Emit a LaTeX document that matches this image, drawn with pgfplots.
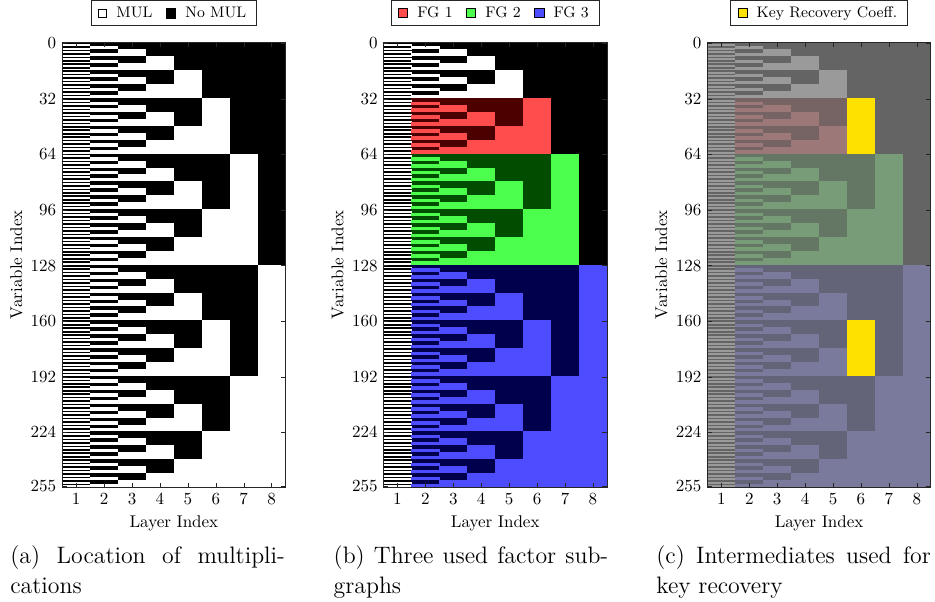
\documentclass[border=0pt]{standalone}
\usepackage{pgfplots}
\pgfplotsset{compat=1.18}
\usepackage{pgfplotstable}

\definecolor{fgr}{RGB}{255,77,77}
\definecolor{fgrd}{RGB}{77,0,0}
\definecolor{fgg}{RGB}{77,255,77}
\definecolor{fggd}{RGB}{0,77,0}
\definecolor{fgb}{RGB}{77,77,255}
\definecolor{fgbd}{RGB}{0,0,77}
\definecolor{cbk}{RGB}{100,100,100}
\definecolor{cwh}{RGB}{154,154,154}
\definecolor{cr}{RGB}{156,120,120}
\definecolor{crd}{RGB}{118,100,100}
\definecolor{cg}{RGB}{120,156,120}
\definecolor{cgd}{RGB}{100,118,100}
\definecolor{cb}{RGB}{122,122,156}
\definecolor{cbd}{RGB}{100,100,120}
\definecolor{keyy}{RGB}{255,225,0}
\definecolor{axgray}{RGB}{38,38,38}

% MUL (white) runs: layer x, centre row y, half height e
\pgfplotstableread[row sep=\\]{
x y e\\
1 1 .5\\1 3 .5\\1 5 .5\\1 7 .5\\1 9 .5\\1 11 .5\\1 13 .5\\1 15 .5\\
1 17 .5\\1 19 .5\\1 21 .5\\1 23 .5\\1 25 .5\\1 27 .5\\1 29 .5\\1 31 .5\\
1 33 .5\\1 35 .5\\1 37 .5\\1 39 .5\\1 41 .5\\1 43 .5\\1 45 .5\\1 47 .5\\
1 49 .5\\1 51 .5\\1 53 .5\\1 55 .5\\1 57 .5\\1 59 .5\\1 61 .5\\1 63 .5\\
1 65 .5\\1 67 .5\\1 69 .5\\1 71 .5\\1 73 .5\\1 75 .5\\1 77 .5\\1 79 .5\\
1 81 .5\\1 83 .5\\1 85 .5\\1 87 .5\\1 89 .5\\1 91 .5\\1 93 .5\\1 95 .5\\
1 97 .5\\1 99 .5\\1 101 .5\\1 103 .5\\1 105 .5\\1 107 .5\\1 109 .5\\1 111 .5\\
1 113 .5\\1 115 .5\\1 117 .5\\1 119 .5\\1 121 .5\\1 123 .5\\1 125 .5\\1 127 .5\\
1 129 .5\\1 131 .5\\1 133 .5\\1 135 .5\\1 137 .5\\1 139 .5\\1 141 .5\\1 143 .5\\
1 145 .5\\1 147 .5\\1 149 .5\\1 151 .5\\1 153 .5\\1 155 .5\\1 157 .5\\1 159 .5\\
1 161 .5\\1 163 .5\\1 165 .5\\1 167 .5\\1 169 .5\\1 171 .5\\1 173 .5\\1 175 .5\\
1 177 .5\\1 179 .5\\1 181 .5\\1 183 .5\\1 185 .5\\1 187 .5\\1 189 .5\\1 191 .5\\
1 193 .5\\1 195 .5\\1 197 .5\\1 199 .5\\1 201 .5\\1 203 .5\\1 205 .5\\1 207 .5\\
1 209 .5\\1 211 .5\\1 213 .5\\1 215 .5\\1 217 .5\\1 219 .5\\1 221 .5\\1 223 .5\\
1 225 .5\\1 227 .5\\1 229 .5\\1 231 .5\\1 233 .5\\1 235 .5\\1 237 .5\\1 239 .5\\
1 241 .5\\1 243 .5\\1 245 .5\\1 247 .5\\1 249 .5\\1 251 .5\\1 253 .5\\1 255 .5\\
2 2.5 1\\2 6.5 1\\2 10.5 1\\2 14.5 1\\2 18.5 1\\2 22.5 1\\2 26.5 1\\2 30.5 1\\
2 34.5 1\\2 38.5 1\\2 42.5 1\\2 46.5 1\\2 50.5 1\\2 54.5 1\\2 58.5 1\\2 62.5 1\\
2 66.5 1\\2 70.5 1\\2 74.5 1\\2 78.5 1\\2 82.5 1\\2 86.5 1\\2 90.5 1\\2 94.5 1\\
2 98.5 1\\2 102.5 1\\2 106.5 1\\2 110.5 1\\2 114.5 1\\2 118.5 1\\2 122.5 1\\2 126.5 1\\
2 130.5 1\\2 134.5 1\\2 138.5 1\\2 142.5 1\\2 146.5 1\\2 150.5 1\\2 154.5 1\\2 158.5 1\\
2 162.5 1\\2 166.5 1\\2 170.5 1\\2 174.5 1\\2 178.5 1\\2 182.5 1\\2 186.5 1\\2 190.5 1\\
2 194.5 1\\2 198.5 1\\2 202.5 1\\2 206.5 1\\2 210.5 1\\2 214.5 1\\2 218.5 1\\2 222.5 1\\
2 226.5 1\\2 230.5 1\\2 234.5 1\\2 238.5 1\\2 242.5 1\\2 246.5 1\\2 250.5 1\\2 254.5 1\\
3 5.5 2\\3 13.5 2\\3 21.5 2\\3 29.5 2\\3 37.5 2\\3 45.5 2\\3 53.5 2\\3 61.5 2\\
3 69.5 2\\3 77.5 2\\3 85.5 2\\3 93.5 2\\3 101.5 2\\3 109.5 2\\3 117.5 2\\3 125.5 2\\
3 133.5 2\\3 141.5 2\\3 149.5 2\\3 157.5 2\\3 165.5 2\\3 173.5 2\\3 181.5 2\\3 189.5 2\\
3 197.5 2\\3 205.5 2\\3 213.5 2\\3 221.5 2\\3 229.5 2\\3 237.5 2\\3 245.5 2\\3 253.5 2\\
4 11.5 4\\4 27.5 4\\4 43.5 4\\4 59.5 4\\4 75.5 4\\4 91.5 4\\4 107.5 4\\4 123.5 4\\
4 139.5 4\\4 155.5 4\\4 171.5 4\\4 187.5 4\\4 203.5 4\\4 219.5 4\\4 235.5 4\\4 251.5 4\\
5 23.5 8\\5 55.5 8\\5 87.5 8\\5 119.5 8\\5 151.5 8\\5 183.5 8\\5 215.5 8\\5 247.5 8\\
6 47.5 16\\6 111.5 16\\6 175.5 16\\6 239.5 16\\
7 95.5 32\\7 223.5 32\\
8 191.5 64\\
}\mulruns

% factor subgraph blocks
\pgfplotstableread[row sep=\\]{
x y e\\
2 47.5 16\\3 47.5 16\\4 47.5 16\\5 47.5 16\\6 47.5 16\\
}\fgone
\pgfplotstableread[row sep=\\]{
x y e\\
2 95.5 32\\3 95.5 32\\4 95.5 32\\5 95.5 32\\6 95.5 32\\7 95.5 32\\
}\fgtwo
\pgfplotstableread[row sep=\\]{
x y e\\
2 191.5 64\\3 191.5 64\\4 191.5 64\\5 191.5 64\\6 191.5 64\\7 191.5 64\\8 191.5 64\\
}\fgthree
\pgfplotstableread[row sep=\\]{
x y e\\
6 47.5 16\\6 175.5 16\\
}\keyrec

\pgfplotsset{
  mcell/.style={only marks, mark=*, mark size=0pt, mark options={draw opacity=0, fill opacity=0}, forget plot,
    error bars/y dir=both, error bars/y explicit, error bars/error mark=none,
    error bars/error bar style={line width=16.6pt, color=#1, line cap=butt, opacity=1}},
  sqlegend/.style={legend image code/.code={\fill[##1] (0pt,-2.7pt) rectangle (5.4pt,2.7pt);}},
  sqlegendw/.style={legend image code/.code={\draw[##1] (0.25pt,-2.5pt) rectangle (5.15pt,2.5pt);}},
  panel/.style={
    scale only axis, width=131.4pt, height=261.5pt,
    xmin=0.5, xmax=8.5, ymin=-0.5, ymax=255.5, y dir=reverse,
    xtick={1,...,8}, ytick={0,32,64,96,128,160,192,224,255},
    xlabel={Layer Index}, ylabel={Variable Index},
    ylabel style={xshift=0pt, yshift=-2pt},
    axis on top, axis line style={axgray}, tick style={axgray},
    major tick length=2.6pt,
    legend style={at={(0.5,1.037)}, anchor=south, legend columns=-1,
      draw=axgray, font=\small, inner xsep=4pt, inner ysep=1.5pt,
      /tikz/every odd column/.append style={column sep=3.5pt},
      /tikz/every even column/.append style={column sep=6pt}},
  },
}

\begin{document}
\begin{tikzpicture}
\path[use as bounding box] (0,0) rectangle (550pt,354.1pt);

% (a)
\begin{axis}[panel, at={(36.6pt,67.6pt)}, anchor=south west,
  axis background/.style={fill=black}]
\addlegendimage{sqlegendw, draw=black, fill=white}\addlegendentry{MUL}
\addlegendimage{sqlegend, fill=black}\addlegendentry{No MUL}
\addplot[mcell=white] table[x=x,y=y,y error=e]{\mulruns};
\end{axis}

% (b)
\begin{axis}[panel, at={(225.6pt,67.6pt)}, anchor=south west,
  axis background/.style={fill=black}]
\addlegendimage{sqlegend, fill=fgr}\addlegendentry{FG 1}
\addlegendimage{sqlegend, fill=fgg}\addlegendentry{FG 2}
\addlegendimage{sqlegend, fill=fgb}\addlegendentry{FG 3}
\addplot[mcell=fgrd] table[x=x,y=y,y error=e]{\fgone};
\addplot[mcell=fggd] table[x=x,y=y,y error=e]{\fgtwo};
\addplot[mcell=fgbd] table[x=x,y=y,y error=e]{\fgthree};
\addplot[mcell=white] table[x=x,y=y,y error=e]{\mulruns};
\addplot[mcell=fgr, restrict x to domain=1.5:8.5, restrict y to domain=31:64] table[x=x,y=y,y error=e]{\mulruns};
\addplot[mcell=fgg, restrict x to domain=1.5:8.5, restrict y to domain=64:128] table[x=x,y=y,y error=e]{\mulruns};
\addplot[mcell=fgb, restrict x to domain=1.5:8.5, restrict y to domain=128:256] table[x=x,y=y,y error=e]{\mulruns};
\end{axis}

% (c)
\begin{axis}[panel, at={(416.1pt,67.6pt)}, anchor=south west,
  axis background/.style={fill=cbk}]
\addlegendimage{sqlegend, fill=keyy}\addlegendentry{Key Recovery Coeff.}
\addplot[mcell=crd] table[x=x,y=y,y error=e]{\fgone};
\addplot[mcell=cgd] table[x=x,y=y,y error=e]{\fgtwo};
\addplot[mcell=cbd] table[x=x,y=y,y error=e]{\fgthree};
\addplot[mcell=cwh] table[x=x,y=y,y error=e]{\mulruns};
\addplot[mcell=cr, restrict x to domain=1.5:8.5, restrict y to domain=31:64] table[x=x,y=y,y error=e]{\mulruns};
\addplot[mcell=cg, restrict x to domain=1.5:8.5, restrict y to domain=64:128] table[x=x,y=y,y error=e]{\mulruns};
\addplot[mcell=cb, restrict x to domain=1.5:8.5, restrict y to domain=128:256] table[x=x,y=y,y error=e]{\mulruns};
\addplot[mcell=keyy] table[x=x,y=y,y error=e]{\keyrec};
\end{axis}

% sub-captions
\begin{scope}[every node/.style={anchor=base west, inner sep=0pt, font=\fontsize{14}{17}\selectfont}]
\node at (5.9pt,22.8pt) {\makebox[161.5pt][s]{(a) Location of multipli-}};
\node at (5.9pt,5.1pt) {cations};
\node at (196.1pt,22.8pt) {\makebox[161.5pt][s]{(b) Three used factor sub-}};
\node at (196.1pt,5.1pt) {graphs};
\node at (385.9pt,22.8pt) {\makebox[161.5pt][s]{(c) Intermediates used for}};
\node at (385.9pt,5.1pt) {key recovery};
\end{scope}
\end{tikzpicture}
\end{document}
